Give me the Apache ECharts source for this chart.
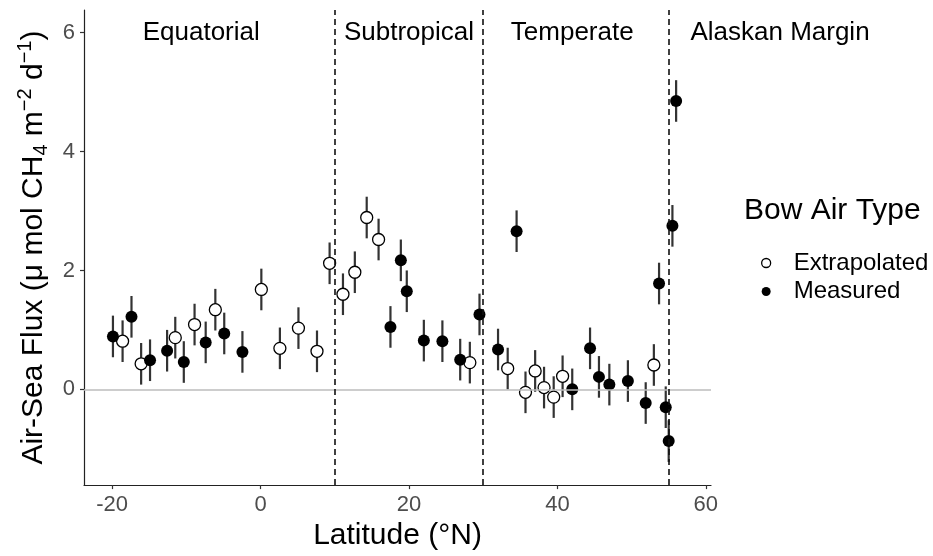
<!DOCTYPE html>
<html><head><meta charset="utf-8">
<script src="https://cdn.jsdelivr.net/npm/echarts@6/dist/echarts.min.js"></script>
<style>html,body{margin:0;padding:0;background:#fff}#c{width:933px;height:556px}</style>
</head><body><div id="c"></div>
<script>
// Extrapolated (open circles)
const extLat  = [-18.6, -16.1, -11.5, -8.9, -6.1, 0.1, 2.6, 5.1, 7.6, 9.3, 11.1, 12.7, 14.3, 15.9, 28.2, 33.3, 35.7, 37.0, 38.2, 39.5, 40.7, 53.0];
const extFlux = [0.81, 0.43, 0.87, 1.09, 1.34, 1.68, 0.69, 1.03, 0.64, 2.12, 1.60, 1.97, 2.89, 2.52, 0.45, 0.35, -0.05, 0.31, 0.03, -0.13, 0.22, 0.41];
const extErr  = [0.35, 0.35, 0.35, 0.35, 0.35, 0.35, 0.35, 0.35, 0.35, 0.35, 0.35, 0.35, 0.35, 0.35, 0.35, 0.35, 0.35, 0.35, 0.35, 0.35, 0.35, 0.35];
// Measured (filled circles)
const meaLat  = [-19.9, -17.4, -14.9, -12.6, -10.35, -7.4, -4.9, -2.45, 17.5, 18.9, 19.7, 22.0, 24.5, 26.9, 29.5, 32.0, 34.5, 42.0, 44.4, 45.6, 47.0, 49.5, 51.9, 53.7, 54.6, 55.0, 55.5, 56.0];
const meaFlux = [0.89, 1.22, 0.49, 0.65, 0.46, 0.79, 0.94, 0.63, 1.05, 2.17, 1.65, 0.82, 0.81, 0.50, 1.26, 0.67, 2.66, 0.00, 0.69, 0.21, 0.08, 0.14, -0.23, 1.78, -0.30, -0.87, 2.75, 4.85];
const meaErr  = [0.35, 0.35, 0.35, 0.35, 0.35, 0.35, 0.35, 0.35, 0.35, 0.35, 0.35, 0.35, 0.35, 0.35, 0.35, 0.35, 0.35, 0.35, 0.35, 0.35, 0.35, 0.35, 0.35, 0.35, 0.35, 0.35, 0.35, 0.35];

const xTicks = [-20, 0, 20, 40, 60];
const yTicks = [0, 2, 4, 6];
const regionBounds = [10, 30, 55];
const regionNames = ['Equatorial', 'Subtropical', 'Temperate', 'Alaskan Margin'];
const regionLabelX = [-8, 20, 42, 70];
const regionLabelY = 6;
const legendTitle = 'Bow Air Type';

const FONT = '"Liberation Sans", Arial, Helvetica, sans-serif';
const chart = echarts.init(document.getElementById('c'), null, {renderer: 'canvas'});

function errData(lat, flux, err) {
  return lat.map((x, i) => [x, flux[i] - err[i], flux[i] + err[i]]);
}
function errRender(params, api) {
  const x = api.value(0);
  const p1 = api.coord([x, api.value(1)]);
  const p2 = api.coord([x, api.value(2)]);
  return {type: 'line', shape: {x1: p1[0], y1: p1[1], x2: p2[0], y2: p2[1]},
          style: {stroke: '#333', lineWidth: 2.2}};
}

const option = {
  animation: false,
  backgroundColor: '#fff',
  grid: {left: 84, right: 222, top: 10, bottom: 67, containLabel: false},
  xAxis: {
    type: 'value', min: -23.8, max: 60.7,
    name: 'Latitude (°N)', nameLocation: 'middle', nameGap: 33,
    nameTextStyle: {fontSize: 30, color: '#000', fontFamily: FONT},
    axisLine: {show: true, onZero: false, lineStyle: {color: '#222', width: 1.2}},
    axisTick: {show: true, length: 4, customValues: xTicks, lineStyle: {color: '#333', width: 1.2}},
    axisLabel: {customValues: xTicks, fontSize: 22, color: '#4d4d4d', fontFamily: FONT, margin: 9},
    splitLine: {show: false}
  },
  yAxis: {
    type: 'value', min: -1.61, max: 6.38,
    name: '{a|Air-Sea Flux (μ mol CH}{b|4}{a| m}{c|−2}{a| d}{c|−1}{a|)}',
    nameLocation: 'middle', nameGap: 25, nameRotate: 90,
    nameTextStyle: {
      fontSize: 30, color: '#000', fontFamily: FONT,
      rich: {
        a: {fontSize: 30, color: '#000', fontFamily: FONT, lineHeight: 36},
        b: {fontSize: 20, color: '#000', fontFamily: FONT, lineHeight: 18, verticalAlign: 'bottom'},
        c: {fontSize: 20, color: '#000', fontFamily: FONT, lineHeight: 20, verticalAlign: 'top'}
      }
    },
    axisLine: {show: true, onZero: false, lineStyle: {color: '#222', width: 1.2}},
    axisTick: {show: true, length: 4, customValues: yTicks, lineStyle: {color: '#333', width: 1.2}},
    axisLabel: {customValues: yTicks, fontSize: 22, color: '#4d4d4d', fontFamily: FONT, margin: 9},
    splitLine: {show: false}
  },
  legend: {
    orient: 'vertical', left: 756, top: 246, itemWidth: 9, itemHeight: 9, itemGap: 4.5,
    icon: 'circle', selectedMode: false,
    textStyle: {fontSize: 24, color: '#000', fontFamily: FONT, lineHeight: 24, padding: [0, 0, 0, 18]},
    data: [
      {name: 'Extrapolated', itemStyle: {color: '#fff', borderColor: '#000', borderWidth: 1.3}},
      {name: 'Measured', itemStyle: {color: '#000', borderWidth: 0}}
    ]
  },
  series: [
    {
      type: 'line', name: 'refs', data: [], z: 1, silent: true,
      markLine: {
        silent: true, symbol: ['none', 'none'], label: {show: false}, animation: false,
        data: [
          {yAxis: 0, lineStyle: {color: '#bdbdbd', width: 1.6, type: 'solid'}},
          ...regionBounds.map(v => ({xAxis: v, lineStyle: {color: '#111', width: 1.6, type: [6, 4]}}))
        ]
      }
    },
    {type: 'custom', name: 'extErr', renderItem: errRender, data: errData(extLat, extFlux, extErr), z: 2, silent: true},
    {type: 'custom', name: 'meaErr', renderItem: errRender, data: errData(meaLat, meaFlux, meaErr), z: 2, silent: true},
    {
      type: 'scatter', name: 'Extrapolated', symbol: 'circle', symbolSize: 12, z: 3,
      itemStyle: {color: '#fff', borderColor: '#000', borderWidth: 1.3, opacity: 1},
      data: extLat.map((x, i) => [x, extFlux[i]])
    },
    {
      type: 'scatter', name: 'Measured', symbol: 'circle', symbolSize: 12, z: 3,
      itemStyle: {color: '#000', opacity: 1},
      data: meaLat.map((x, i) => [x, meaFlux[i]])
    }
  ]
};
chart.setOption(option);

const texts = regionNames.map((n, i) => {
  const p = chart.convertToPixel({gridIndex: 0}, [regionLabelX[i], regionLabelY]);
  return {type: 'text', x: p[0], y: p[1], silent: true,
          style: {text: n, fontSize: 26, fill: '#000', fontFamily: FONT, align: 'center', verticalAlign: 'middle'}};
});
texts.push({type: 'text', x: 744, y: 211, silent: true,
  style: {text: legendTitle, fontSize: 30, fill: '#000', fontFamily: FONT, align: 'left', verticalAlign: 'middle'}});
chart.setOption({graphic: texts});
</script></body></html>
